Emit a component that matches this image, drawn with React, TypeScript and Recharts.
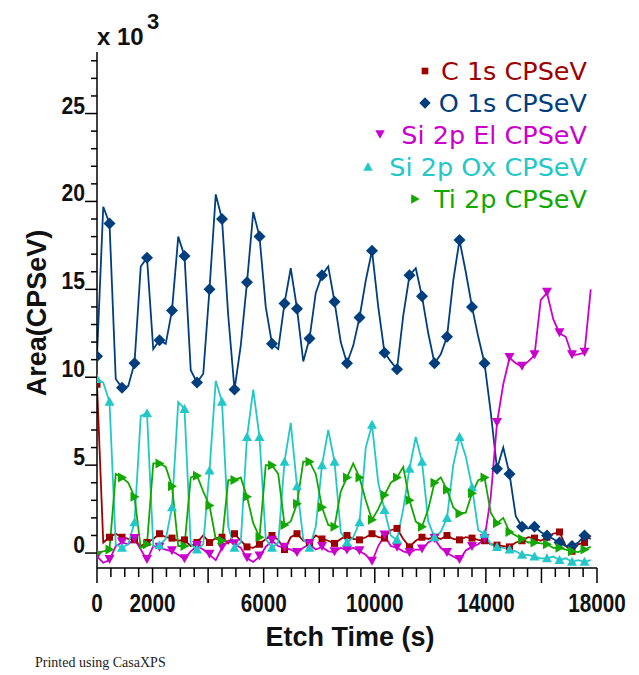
import { LineChart, Line, XAxis, YAxis } from "recharts";

// etch time (s), one sample every 225 s
const etchTime = [
  0, 225, 450, 675, 900, 1125, 1350, 1575, 1800, 2025, 2250, 2475, 2700, 2925, 3150, 3375,
  3600, 3825, 4050, 4275, 4500, 4725, 4950, 5175, 5400, 5625, 5850, 6075, 6300, 6525, 6750, 6975,
  7200, 7425, 7650, 7875, 8100, 8325, 8550, 8775, 9000, 9225, 9450, 9675, 9900, 10125, 10350, 10575,
  10800, 11025, 11250, 11475, 11700, 11925, 12150, 12375, 12600, 12825, 13050, 13275, 13500, 13725, 13950, 14175,
  14400, 14625, 14850, 15075, 15300, 15525, 15750, 15975, 16200, 16425, 16650, 16875, 17100, 17325, 17550, 17775,
];

// areas in units of 10^3 CPSeV
const c1s = [
  9.6, 0.6, 0.9, 1.1, 0.9, 0.8, 0.75, 0.4, 0.6, 0.8, 1.1, 0.9, 0.85, 0.7, 0.75, 0.4,
  0.6, 1.0, 0.6, 0.85, 0.9, 0.55, 1.1, 0.7, 0.35, 0.3, 0.5, 0.8, 1.0, 0.75, 0.2, 0.9,
  1.1, 0.7, 0.6, 1.0, 0.8, 0.7, 0.55, 0.8, 1.0, 0.8, 0.75, 0.9, 1.1, 0.9, 0.85, 1.3,
  1.4, 0.8, 0.35, 0.7, 0.9, 0.8, 0.9, 0.8, 1.0, 0.8, 0.75, 0.9, 0.85, 0.75, 0.7, 0.5,
  0.45, 0.4, 0.35, 0.6, 0.7, 0.9, 0.85, 0.7, 0.9, 1.1, 1.2, 0.4, 0.1, 0.5, 0.6, 1.0,
];
const o1s = [
  11.2, 19.7, 18.75, 9.9, 9.4, 9.5, 10.8, 16.3, 16.8, 11.6, 12.1, 11.9, 13.8, 18.0, 16.9, 10.4,
  9.7, 10.2, 15.0, 20.4, 19.0, 13.5, 9.3, 11.8, 15.4, 19.4, 18.0, 14.0, 11.9, 11.6, 14.2, 16.2,
  13.9, 10.9, 12.2, 14.8, 15.8, 16.3, 14.3, 12.0, 10.8, 11.8, 13.4, 15.5, 17.2, 14.0, 11.4, 10.9,
  10.45, 13.5, 15.8, 16.2, 14.6, 12.5, 10.8, 11.3, 12.3, 15.5, 17.8, 16.0, 14.0, 12.3, 10.8, 8.0,
  4.8, 6.0, 4.5, 2.1, 1.5, 1.4, 1.5, 1.2, 1.0, 0.8, 0.6, 0.4, 0.4, 0.6, 1.0, 0.8,
];
const si2pEl = [
  -0.2, -0.55, -0.4, 0.4, 0.6, 0.5, 0.8, 0.2, -0.4, 0.4, 0.3, 0.2, 0.1, -0.1, -0.35, 0.1,
  0.4, 0.2, -0.1, -0.4, 0.3, 0.7, 0.5, 0.3, -0.3, -0.5, -0.2, 0.35, 0.7, 0.4, 0.3, 0.2,
  0.0, 0.3, 0.5, 0.2, 0.35, 0.1, 0.05, 0.3, 0.15, 0.3, 0.1, -0.1, -0.5, 0.4, 1.0, 0.4,
  0.3, 0.1, 0.0, 0.2, 0.2, 0.6, 0.8, 0.3, 0.0, -0.2, -0.4, 0.15, 0.35, 0.5, 0.8, 3.2,
  7.4, 9.6, 11.1, 10.8, 10.6, 10.9, 11.25, 14.4, 14.8, 13.3, 12.5, 12.3, 11.25, 11.3, 11.4, 15.0,
];
const si2pOx = [
  9.9, 9.7, 8.6, 0.5, 0.3, 0.5, 1.75, 7.8, 7.95, 0.4, 0.45, 0.8, 2.6, 8.6, 8.2, 0.5,
  0.2, 0.5, 4.7, 9.8, 8.6, 1.5, 0.3, 0.6, 6.6, 9.3, 6.6, 0.8, 0.3, 0.6, 5.2, 7.4,
  3.8, 0.8, 0.3, 1.5, 5.0, 7.0, 5.2, 1.2, 0.6, 0.9, 1.75, 6.0, 7.3, 4.0, 2.45, 1.0,
  0.75, 2.5, 4.8, 6.6, 5.2, 1.8, 0.9, 1.2, 2.0, 5.0, 6.6, 5.5, 3.75, 1.3, 1.1, 0.5,
  0.35, 0.3, 0.2, 0.1, -0.1, -0.1, -0.2, -0.3, -0.3, -0.2, -0.4, -0.3, -0.5, -0.4, -0.5, -0.4,
];
const ti2p = [
  0.0, 0.1, 0.2, 4.5, 4.3, 4.0, 3.2, 0.3, 0.5, 5.1, 5.1, 4.9, 3.8, 0.4, 0.4, 4.3,
  4.4, 3.5, 2.7, 0.8, 0.7, 4.15, 4.15, 4.3, 3.2, 1.7, 0.9, 5.0, 5.0, 4.5, 1.6, 1.8,
  2.8, 5.2, 5.2, 4.5, 2.6, 1.6, 1.5, 3.5, 4.3, 5.1, 4.3, 3.0, 1.9, 2.5, 3.3, 4.0,
  4.3, 4.9, 3.0, 1.8, 1.5, 2.5, 4.0, 4.3, 3.6, 2.6, 2.25, 2.3, 3.4, 4.15, 4.3, 2.3,
  1.7, 2.0, 1.2, 1.0, 0.8, 0.6, 0.6, 0.55, 0.5, 0.3, 0.3, 0.2, 0.1, 0.05, 0.2, 0.35,
];

const xTicks = [
  0, 500, 1000, 1500, 2000, 2500, 3000, 3500, 4000, 4500, 5000, 5500, 6000, 6500, 7000, 7500, 8000, 8500, 9000,
  9500, 10000, 10500, 11000, 11500, 12000, 12500, 13000, 13500, 14000, 14500, 15000, 15500, 16000, 16500, 17000, 17500, 18000,
];
const xTickLabels = [0, 2000, 6000, 10000, 14000, 18000];
const yTicks = [0, 1, 2, 3, 4, 5, 6, 7, 8, 9, 10, 11, 12, 13, 14, 15, 16, 17, 18, 19, 20, 21, 22, 23, 24, 25, 26, 27, 28];
const yTickLabels = [0, 5, 10, 15, 20, 25];

const series = [
  { key: "c", name: "C 1s CPSeV", color: "#9E0000", shape: "square", values: c1s, legendX: 425 },
  { key: "o", name: "O 1s CPSeV", color: "#003E7E", shape: "diamond", values: o1s, legendX: 425 },
  { key: "el", name: "Si 2p El CPSeV", color: "#CC00CC", shape: "down", values: si2pEl, legendX: 380 },
  { key: "ox", name: "Si 2p Ox CPSeV", color: "#22C8C8", shape: "up", values: si2pOx, legendX: 368 },
  { key: "ti", name: "Ti 2p CPSeV", color: "#12A800", shape: "right", values: ti2p, legendX: 415 },
];

const data = etchTime.map((t, i) => {
  const row: Record<string, number> = { t };
  series.forEach((s) => (row[s.key] = s.values[i]));
  return row;
});

const W = 639;
const H = 675;
const AXIS_FONT = "'Liberation Sans', Arial, sans-serif";
const LEGEND_FONT = "'DejaVu Sans', Verdana, sans-serif";

function Marker({ shape, cx, cy, color, r = 1 }: { shape: string; cx: number; cy: number; color: string; r?: number }) {
  if (shape === "square") return <rect x={cx - 3.5 * r} y={cy - 3.5 * r} width={7 * r} height={7 * r} fill={color} />;
  if (shape === "diamond")
    return <polygon points={`${cx},${cy - 6 * r} ${cx + 6 * r},${cy} ${cx},${cy + 6 * r} ${cx - 6 * r},${cy}`} fill={color} />;
  if (shape === "down")
    return <polygon points={`${cx - 5 * r},${cy - 5 * r} ${cx + 5 * r},${cy - 5 * r} ${cx},${cy + 4 * r}`} fill={color} />;
  if (shape === "up")
    return <polygon points={`${cx - 5 * r},${cy + 4 * r} ${cx + 5 * r},${cy + 4 * r} ${cx},${cy - 5 * r}`} fill={color} />;
  return <polygon points={`${cx - 4 * r},${cy - 5 * r} ${cx - 4 * r},${cy + 5 * r} ${cx + 5 * r},${cy}`} fill={color} />;
}

function XTick(props: any) {
  const { x, y, payload } = props;
  const v = payload.value;
  const major = v % 2000 === 0;
  return (
    <g>
      <line x1={x} x2={x} y1={y} y2={y + (major ? 15 : 9)} stroke="#000" strokeWidth={1.5} />
      {xTickLabels.includes(v) && (
        <text
          transform={`translate(${x},${y + 44}) scale(0.9,1.1)`}
          textAnchor="middle"
          fontFamily={AXIS_FONT}
          fontWeight="bold"
          fontSize={23}
          fill="#111"
        >
          {v}
        </text>
      )}
    </g>
  );
}

function YTick(props: any) {
  const { x, y, payload } = props;
  const v = payload.value;
  const major = v % 5 === 0;
  return (
    <g>
      <line x1={x - (major ? 12 : 6)} x2={x} y1={y} y2={y} stroke="#000" strokeWidth={1.5} />
      {yTickLabels.includes(v) && (
        <text
          transform={`translate(${x - 12},${y}) scale(0.92,1.05)`}
          textAnchor="end"
          fontFamily={AXIS_FONT}
          fontWeight="bold"
          fontSize={23}
          fill="#111"
        >
          {v}
        </text>
      )}
    </g>
  );
}

export default function App() {
  return (
    <div style={{ position: "absolute", left: 0, top: 0, width: W, height: H, background: "#fff" }}>
      <LineChart width={W} height={H} data={data} margin={{ top: 52, right: 42, bottom: 0, left: 0 }}>
        <XAxis
          dataKey="t"
          type="number"
          domain={[0, 18000]}
          ticks={xTicks}
          interval={0}
          tickSize={0}
          tickMargin={0}
          tick={<XTick />}
          height={107}
          axisLine={{ stroke: "#000", strokeWidth: 1.5 }}
          allowDataOverflow
        />
        <YAxis
          type="number"
          domain={[-0.85, 28.5]}
          ticks={yTicks}
          interval={0}
          tickSize={0}
          tickMargin={0}
          tick={<YTick />}
          width={97}
          axisLine={{ stroke: "#000", strokeWidth: 1.5 }}
          allowDataOverflow
        />
        {series.map((s) => (
          <Line
            key={s.key}
            dataKey={s.key}
            name={s.name}
            type="linear"
            stroke={s.color}
            strokeWidth={1.8}
            isAnimationActive={false}
            activeDot={false}
            dot={(p: any) =>
              p.index % 2 === 0 ? (
                <Marker key={`${s.key}-${p.index}`} shape={s.shape} cx={p.cx} cy={p.cy} color={s.color} />
              ) : (
                <g key={`${s.key}-${p.index}`} />
              )
            }
          />
        ))}
      </LineChart>
      <svg width={W} height={H} style={{ position: "absolute", left: 0, top: 0, pointerEvents: "none" }}>
        <text x={97} y={45} fontFamily={AXIS_FONT} fontWeight="bold" fontSize={24} fill="#111">
          x 10
        </text>
        <text x={147} y={29} fontFamily={AXIS_FONT} fontWeight="bold" fontSize={22} fill="#111">
          3
        </text>
        <text
          x={0}
          y={0}
          transform="translate(46,313) rotate(-90)"
          textAnchor="middle"
          fontFamily={AXIS_FONT}
          fontWeight="bold"
          fontSize={27}
          fill="#111"
        >
          Area(CPSeV)
        </text>
        <text x={350} y={646} textAnchor="middle" fontFamily={AXIS_FONT} fontWeight="bold" fontSize={27} fill="#111">
          Etch Time (s)
        </text>
        <text x={35} y={667} fontFamily="'Liberation Serif', 'Times New Roman', serif" fontSize={14} fill="#222">
          Printed using CasaXPS
        </text>
        {series.map((s, i) => {
          const y = 80 + i * 32;
          return (
            <g key={s.key}>
              <Marker shape={s.shape} cx={s.legendX} cy={y - 9} color={s.color} r={0.95} />
              <text x={587} y={y} textAnchor="end" fontFamily={LEGEND_FONT} fontSize={25.5} fill={s.color}>
                {s.name}
              </text>
            </g>
          );
        })}
      </svg>
    </div>
  );
}
